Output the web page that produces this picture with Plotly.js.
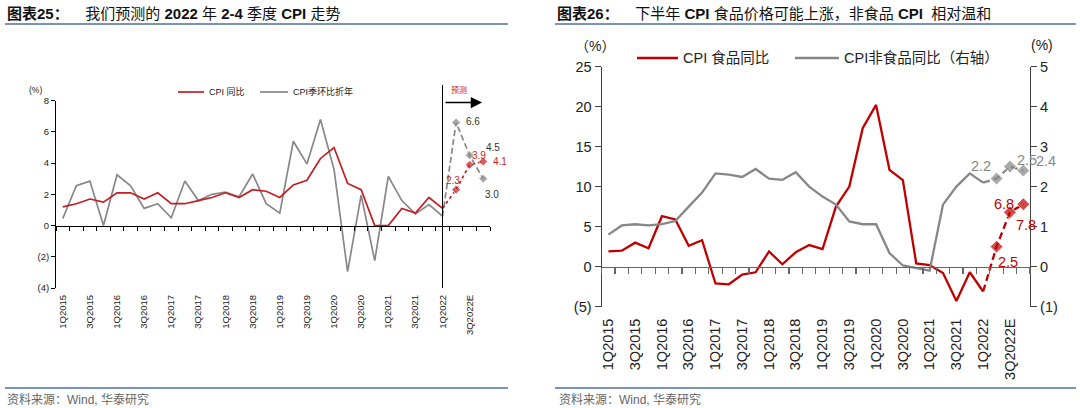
<!DOCTYPE html>
<html><head><meta charset="utf-8">
<script src="https://cdn.plot.ly/plotly-3.0.1.min.js"></script>
<style>html,body{margin:0;padding:0;background:#fff;} #chart{width:1080px;height:408px;}</style>
</head><body><div id="chart"></div>
<script>
// ---------- data ----------
const quarters = ['1Q2015','2Q2015','3Q2015','4Q2015','1Q2016','2Q2016','3Q2016','4Q2016',
  '1Q2017','2Q2017','3Q2017','4Q2017','1Q2018','2Q2018','3Q2018','4Q2018',
  '1Q2019','2Q2019','3Q2019','4Q2019','1Q2020','2Q2020','3Q2020','4Q2020',
  '1Q2021','2Q2021','3Q2021','4Q2021','1Q2022','2Q2022E','3Q2022E','4Q2022E'];
const actualQuarters = quarters.slice(0, 29);
const forecastQuarters = ['1Q2022','2Q2022E','3Q2022E','4Q2022E'];
const labelQuarters = quarters.filter((q, i) => i % 2 === 0);

// Chart 25: CPI YoY and QoQ annualised (%)
const cpiYoY = [1.2,1.4,1.7,1.5, 2.1,2.1,1.7,2.1, 1.4,1.4,1.6,1.8, 2.1,1.8,2.3,2.2,
  1.8,2.6,2.9,4.3, 5.0,2.7,2.3,0.0, 0.0,1.1,0.8,1.8, 1.1];
const cpiQoQAnn = [0.45,2.55,2.85,0.0, 3.25,2.55,1.1,1.4, 0.5,2.85,1.6,2.0, 2.15,1.85,3.3,1.4,
  0.8,5.4,3.95,6.8, 3.6,-2.95,1.95,-2.25, 3.15,1.6,0.75,1.35, 0.6];
const cpiYoYForecast = [1.1, 2.3, 3.9, 4.1];
const cpiQoQAnnForecast = [0.6, 6.6, 4.5, 3.0];

// Chart 26: CPI food YoY (left axis) and non-food YoY (right axis) (%)
const foodYoY = [1.9,2.0,3.0,2.3, 6.3,5.9,2.6,3.3, -2.1,-2.2,-1.0,-0.7, 1.9,0.3,1.8,2.7,
  2.2,7.5,10.0,17.3, 20.2,12.1,10.8,0.4, 0.2,-0.8,-4.3,-0.7, -3.1];
const nonFoodYoY = [0.8,1.03,1.06,1.03, 1.06,1.14,1.5,1.85, 2.33,2.3,2.24,2.44, 2.2,2.17,2.36,2.0,
  1.75,1.55,1.13,1.06, 1.06,0.34,0.03,-0.03, -0.1,1.55,2.0,2.33, 2.1];
const foodYoYForecast = [-3.1, 2.5, 6.8, 7.8];
const nonFoodYoYForecast = [2.1, 2.2, 2.5, 2.4];

// ---------- helpers ----------
const W = 1080, H = 408;
const px = x => x / W;
const py = y => 1 - y / H;
const FONT = "'Liberation Sans', Arial, 'Noto Sans CJK SC', sans-serif";
const zeroPos = (dom, rng) => dom[0] + (0 - rng[0]) / (rng[1] - rng[0]) * (dom[1] - dom[0]);
const idx = q => quarters.indexOf(q);
const paren = v => v < 0 ? '(' + Math.abs(v) + ')' : String(v);

const RED = '#C00000', RED_L = '#C41E24', GRAY = '#878787';

const xDomL = [px(56), px(490)], yDomL = [py(288), py(100.7)], yRngL = [-4, 8];
const xDomR = [px(601.7), px(1030)], yDomR = [py(306.7), py(66.5)], yRngR = [-5, 25], yRngR2 = [-1, 5];
const catRange = [-0.5, quarters.length - 0.5];

const leftTicks = [-4,-2,0,2,4,6,8];
const rightTicks = [-5,0,5,10,15,20,25];
const right2Ticks = [-1,0,1,2,3,4,5];

// ---------- traces ----------
const traces = [
  {x: actualQuarters, y: cpiQoQAnn, xaxis:'x', yaxis:'y', mode:'lines', name:'CPI季环比折年',
   line:{color:GRAY, width:1.7}, showlegend:false},
  {x: actualQuarters, y: cpiYoY, xaxis:'x', yaxis:'y', mode:'lines', name:'CPI 同比',
   line:{color:RED_L, width:1.7}, showlegend:false},
  {x: forecastQuarters, y: cpiQoQAnnForecast, xaxis:'x', yaxis:'y', mode:'lines+markers',
   line:{color:GRAY, width:1.7, dash:'6px,3px'}, marker:{symbol:'diamond', size:[0,7,7,7], color:GRAY}, showlegend:false},
  {x: forecastQuarters, y: cpiYoYForecast, xaxis:'x', yaxis:'y', mode:'lines+markers',
   line:{color:RED_L, width:1.7, dash:'dot'}, marker:{symbol:'diamond', size:[0,7,7,7], color:RED_L}, showlegend:false},
  {x: quarters, y: quarters.map(() => 0), xaxis:'x3', yaxis:'y', mode:'none', showlegend:false, hoverinfo:'skip'},

  {x: actualQuarters, y: nonFoodYoY, xaxis:'x2', yaxis:'y3', mode:'lines', name:'CPI非食品同比（右轴）',
   line:{color:GRAY, width:2.3}, showlegend:false},
  {x: forecastQuarters, y: nonFoodYoYForecast, xaxis:'x2', yaxis:'y3', mode:'lines+markers',
   line:{color:GRAY, width:2.3, dash:'7px,4px'}, marker:{symbol:'diamond', size:[0,10,10,10], color:GRAY}, showlegend:false},
  {x: actualQuarters, y: foodYoY, xaxis:'x2', yaxis:'y2', mode:'lines', name:'CPI 食品同比',
   line:{color:RED, width:2.3}, showlegend:false},
  {x: forecastQuarters, y: foodYoYForecast, xaxis:'x2', yaxis:'y2', mode:'lines+markers',
   line:{color:RED, width:2.3, dash:'7px,4px'}, marker:{symbol:'diamond', size:[0,10,10,10], color:RED}, showlegend:false},
  {x: quarters, y: quarters.map(() => 0), xaxis:'x4', yaxis:'y2', mode:'none', showlegend:false, hoverinfo:'skip'}
];

// ---------- axes ----------
const catBase = {type:'category', categoryorder:'array', categoryarray:quarters, range:catRange,
  showgrid:false, zeroline:false, fixedrange:true};

const layout = {
  width: W, height: H, autosize:false,
  margin:{l:0, r:0, t:0, b:0, pad:0},
  paper_bgcolor:'#fff', plot_bgcolor:'rgba(0,0,0,0)',
  font:{family:FONT, color:'#222'},
  xaxis: Object.assign({}, catBase, {domain:xDomL, anchor:'y', showline:false, ticks:'',
    tickmode:'array', tickvals:labelQuarters, ticktext:labelQuarters, tickangle:-90,
    ticklabelstandoff:4, tickfont:{size:9.5, color:'#222', family:FONT}}),
  xaxis3: Object.assign({}, catBase, {overlaying:'x', anchor:'free', position:zeroPos(yDomL, yRngL),
    showline:true, linecolor:'#000', linewidth:1, ticks:'outside', ticklen:4, tickwidth:1, tickcolor:'#000',
    tickmode:'linear', tick0:0, dtick:1, tickson:'boundaries', showticklabels:false}),
  yaxis: {domain:yDomL, range:yRngL, anchor:'x', showline:true, linecolor:'#000', linewidth:1,
    ticks:'outside', ticklen:4, tickcolor:'#000', tickmode:'array', tickvals:leftTicks,
    ticktext:leftTicks.map(paren), tickfont:{size:9.5, color:'#222', family:FONT},
    showgrid:false, zeroline:false, fixedrange:true},

  xaxis2: Object.assign({}, catBase, {domain:xDomR, anchor:'y2', showline:false, ticks:'',
    tickmode:'array', tickvals:labelQuarters, ticktext:labelQuarters, tickangle:-90,
    ticklabelstandoff:8, tickfont:{size:14.5, color:'#222', family:FONT}}),
  xaxis4: Object.assign({}, catBase, {overlaying:'x2', anchor:'free', position:zeroPos(yDomR, yRngR),
    showline:true, linecolor:'#666', linewidth:1.2, ticks:'outside', ticklen:6, tickwidth:1.2, tickcolor:'#666',
    tickmode:'linear', tick0:0, dtick:1, tickson:'boundaries', showticklabels:false}),
  yaxis2: {domain:yDomR, range:yRngR, anchor:'x2', side:'left', showline:true, linecolor:'#444', linewidth:1.2,
    ticks:'outside', ticklen:6, tickcolor:'#444', tickmode:'array', tickvals:rightTicks,
    ticktext:rightTicks.map(paren), tickfont:{size:14.5, color:'#222', family:FONT},
    showgrid:false, zeroline:false, fixedrange:true},
  yaxis3: {overlaying:'y2', anchor:'x2', side:'right', range:yRngR2, showline:true, linecolor:'#444', linewidth:1.2,
    ticks:'outside', ticklen:6, tickcolor:'#444', tickmode:'array', tickvals:right2Ticks,
    ticktext:right2Ticks.map(paren), tickfont:{size:14.5, color:'#222', family:FONT},
    showgrid:false, zeroline:false, fixedrange:true},
  shapes: [], annotations: []
};

// ---------- decorations ----------
const S = layout.shapes, A = layout.annotations;
const BLUE = '#4F6F9F';
// title rules and source rules
[[5,508],[555,1076]].forEach(([a,b]) => {
  S.push({type:'line', xref:'paper', yref:'paper', x0:px(a), x1:px(b), y0:py(24), y1:py(24), line:{color:BLUE, width:1.5}});
  S.push({type:'line', xref:'paper', yref:'paper', x0:px(a), x1:px(b), y0:py(388), y1:py(388), line:{color:BLUE, width:1.5}});
});
A.push({xref:'paper', yref:'paper', x:px(5), y:py(14), xanchor:'left', yanchor:'middle', showarrow:false,
  text:'<b>图表25：</b>    我们预测的 <b>2022</b> 年 <b>2-4</b> 季度 <b>CPI</b> 走势', font:{size:15, color:'#111', family:FONT}});
A.push({xref:'paper', yref:'paper', x:px(555), y:py(14), xanchor:'left', yanchor:'middle', showarrow:false,
  text:'<b>图表26：</b>    下半年 <b>CPI</b> 食品价格可能上涨，非食品 <b>CPI</b>  相对温和', font:{size:15, color:'#111', family:FONT}});
A.push({xref:'paper', yref:'paper', x:px(5), y:py(399), xanchor:'left', yanchor:'middle', showarrow:false,
  text:'资料来源：Wind, 华泰研究', font:{size:12, color:'#666', family:FONT}});
A.push({xref:'paper', yref:'paper', x:px(557), y:py(399), xanchor:'left', yanchor:'middle', showarrow:false,
  text:'资料来源：Wind, 华泰研究', font:{size:12, color:'#666', family:FONT}});

// unit labels
A.push({xref:'paper', yref:'paper', x:px(35), y:py(90), xanchor:'center', yanchor:'middle', showarrow:false,
  text:'(%)', font:{size:8.5, color:'#222', family:FONT}});
A.push({xref:'paper', yref:'paper', x:px(595), y:py(46), xanchor:'center', yanchor:'middle', showarrow:false,
  text:'（%）', font:{size:14, color:'#222', family:FONT}});
A.push({xref:'paper', yref:'paper', x:px(1042), y:py(45), xanchor:'center', yanchor:'middle', showarrow:false,
  text:'(%)', font:{size:14, color:'#222', family:FONT}});

// legends (manual)
function legendItem(x0, x1, y, color, width, label, size) {
  S.push({type:'line', xref:'paper', yref:'paper', x0:px(x0), x1:px(x1), y0:py(y), y1:py(y), line:{color:color, width:width}});
  A.push({xref:'paper', yref:'paper', x:px(x1 + 3), y:py(y), xanchor:'left', yanchor:'middle', showarrow:false,
    text:label, font:{size:size, color:'#222', family:FONT}});
}
legendItem(178, 204, 92, RED_L, 1.7, 'CPI 同比', 9);
legendItem(260, 288, 92, GRAY, 1.7, 'CPI季环比折年', 9);
legendItem(637, 678, 58, RED, 2.3, 'CPI 食品同比', 14.5);
legendItem(795, 839, 58, GRAY, 2.3, 'CPI非食品同比（右轴）', 14.5);

// forecast divider + arrow in chart 25
S.push({type:'line', xref:'x', yref:'paper', x0:idx('1Q2022'), x1:idx('1Q2022'), y0:py(288), y1:py(85),
  line:{color:'#000', width:1}});
A.push({xref:'paper', yref:'paper', x:px(482), y:py(102.5), ax:-38, ay:0, text:'', showarrow:true,
  arrowhead:2, arrowsize:1.5, arrowwidth:1.5, arrowcolor:'#000'});
A.push({xref:'paper', yref:'paper', x:px(459), y:py(90), xanchor:'center', yanchor:'middle', showarrow:false,
  text:'预测', font:{size:8, color:RED_L, family:FONT}});

// forecast value labels (positions from data, offsets in px)
function valueLabels(xa, ya, vals, offs, color, size) {
  forecastQuarters.forEach((q, i) => {
    if (!offs[i]) return;
    A.push({xref:xa, yref:ya, x:idx(q), y:vals[i], xshift:offs[i][0], yshift:offs[i][1], showarrow:false,
      text:vals[i].toFixed(1), xanchor:'center', yanchor:'middle', font:{size:size, color:color, family:FONT}});
  });
}
valueLabels('x','y', cpiQoQAnnForecast, [null,[17,1],[23,8],[9,-16]], '#333', 10);
valueLabels('x','y', cpiYoYForecast, [null,[-3,9],[9,9],[17,0]], RED_L, 10);
valueLabels('x2','y3', nonFoodYoYForecast, [null,[-16,13],[17,7],[23,10]], GRAY, 14.5);
valueLabels('x2','y2', foodYoYForecast, [null,[11,-15],[-6,8],[3,-21]], RED, 14.5);

Plotly.newPlot('chart', traces, layout, {displayModeBar:false, staticPlot:true});
</script>
</body></html>
